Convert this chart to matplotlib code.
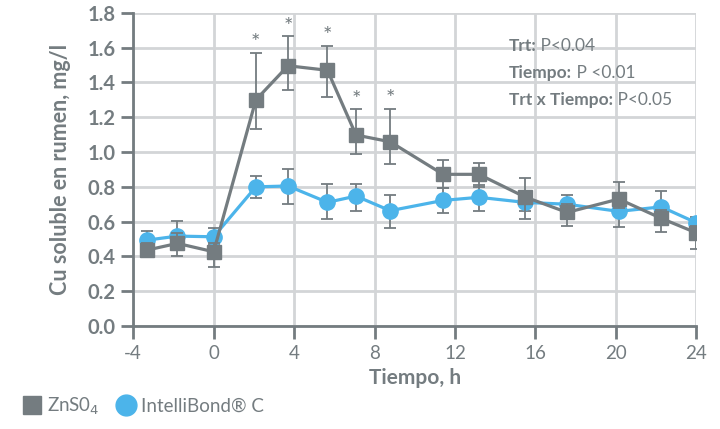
import matplotlib.pyplot as plt
from matplotlib.lines import Line2D

# Data
horas = [-3.3, -1.8, 0, 2.1, 3.7, 5.66, 7.08, 8.78, 11.41, 13.19, 15.46, 17.58, 20.15, 22.26, 24]

zns = [0.437, 0.475, 0.427, 1.30, 1.496, 1.47, 1.098, 1.059, 0.872, 0.872, 0.743, 0.653, 0.73, 0.619, 0.536]
zns_err_lo = [0.04, 0.073, 0.088, 0.17, 0.14, 0.155, 0.108, 0.128, 0.08, 0.07, 0.13, 0.08, 0.05, 0.077, 0.092]
zns_err_hi = [0.04, 0.06, 0.05, 0.27, 0.17, 0.14, 0.147, 0.19, 0.084, 0.063, 0.106, 0.05, 0.10, 0.05, 0.04]

ib = [0.494, 0.517, 0.513, 0.80, 0.805, 0.711, 0.747, 0.663, 0.722, 0.74, 0.711, 0.70, 0.659, 0.685, 0.594]
ib_err_lo = [0.05, 0.05, 0.05, 0.063, 0.105, 0.094, 0.086, 0.102, 0.07, 0.08, 0.05, 0.05, 0.088, 0.05, 0.03]
ib_err_hi = [0.05, 0.086, 0.05, 0.064, 0.095, 0.107, 0.071, 0.088, 0.07, 0.07, 0.05, 0.055, 0.05, 0.093, 0.03]

# points marked as significant
sig = [3, 4, 5, 6, 7]

gris = '#747c80'
azul = '#4cb4ea'
rejilla = '#d3d5d7'

plt.rcParams['font.family'] = ['Lato', 'DejaVu Sans']
plt.rcParams['axes.unicode_minus'] = False

fig = plt.figure(figsize=(7.2, 4.29), dpi=100)
ax = fig.add_axes([0.185, 0.24, 0.782, 0.73])

ax.errorbar(horas, ib, yerr=[ib_err_lo, ib_err_hi], color=azul, lw=2.3,
            marker='o', ms=11, mec=azul, mfc=azul, ecolor=gris,
            elinewidth=1.3, capsize=4, capthick=1.3, zorder=3)
ax.errorbar(horas, zns, yerr=[zns_err_lo, zns_err_hi], color=gris, lw=2.3,
            marker='s', ms=10, mec=gris, mfc=gris, ecolor=gris,
            elinewidth=1.3, capsize=4, capthick=1.3, zorder=4)

for i in sig:
    ax.text(horas[i], zns[i] + zns_err_hi[i] + 0.055, '*', color=gris,
            ha='center', va='center', fontsize=16)

ax.set_xlim(-4, 24)
ax.set_ylim(0, 1.8)
ax.set_xticks(range(-4, 25, 4))
ax.set_yticks([i * 0.2 for i in range(10)])
ax.set_yticklabels(['%.1f' % (i * 0.2) for i in range(10)],
                   fontweight='bold', fontsize=14.5)
ax.grid(True, color=rejilla, lw=2)
ax.set_axisbelow(True)

for s in ['top', 'right']:
    ax.spines[s].set_visible(False)
for s in ['left', 'bottom']:
    ax.spines[s].set_color(gris)
    ax.spines[s].set_linewidth(2)

ax.tick_params(axis='both', colors=gris, width=2, length=9, labelcolor=gris)
ax.tick_params(axis='x', labelsize=13.5, pad=5)

ax.set_xlabel('Tiempo, h', fontweight='bold', fontsize=15, color=gris, labelpad=4)
ax.set_ylabel('Cu soluble en rumen, mg/l', fontweight='bold', fontsize=15.5,
              color=gris, labelpad=12)

# stats text: bold label followed by regular value
stats = [('Trt:', ' P<0.04'), ('Tiempo:', ' P <0.01'), ('Trt x Tiempo:', ' P<0.05')]
for k, (b, r) in enumerate(stats):
    t = ax.text(0.667, 0.893 - k * 0.086, b, transform=ax.transAxes,
                fontweight='bold', fontsize=12.5, color=gris, va='center')
    ax.annotate(r, xy=(1, 0.5), xycoords=t, va='center', fontsize=12.5, color=gris)

handles = [Line2D([], [], ls='none', marker='s', ms=13, color=gris),
           Line2D([], [], ls='none', marker='o', ms=15, color=azul)]
labels = ['ZnS0$_4$', 'IntelliBond® C']
leg = fig.legend(handles, labels, loc='lower left', bbox_to_anchor=(0.008, -0.012),
                 ncol=2, frameon=False, fontsize=13.5, handlelength=1.0,
                 handletextpad=0.3, columnspacing=0.9)
for txt in leg.get_texts():
    txt.set_color(gris)

fig.savefig('out.png', dpi=100)
